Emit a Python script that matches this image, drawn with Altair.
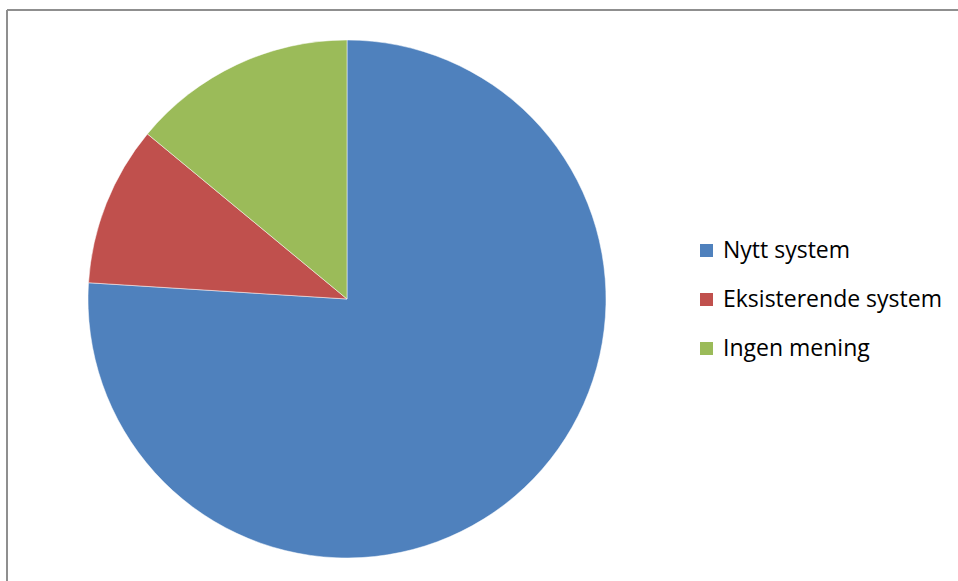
import altair as alt
import pandas as pd

categories = ["Nytt system", "Eksisterende system", "Ingen mening"]
values = [76, 10, 14]
colors = ["#4F81BD", "#C0504D", "#9BBB59"]

df = pd.DataFrame({"kategori": categories, "andel": values, "rekke": [0, 1, 2]})

pie = alt.Chart(df).mark_arc(radius=259, stroke="white", strokeWidth=0.5).encode(
    theta=alt.Theta("andel:Q", stack=True),
    order=alt.Order("rekke:Q"),
    color=alt.Color(
        "kategori:N",
        sort=categories,
        scale=alt.Scale(domain=categories, range=colors),
        legend=alt.Legend(
            title=None,
            orient="none",
            legendX=695,
            legendY=239,
            padding=0,
            symbolType="square",
            symbolSize=169,
            symbolStrokeWidth=0,
            labelFont="Open Sans",
            labelFontSize=23,
            labelColor="black",
            labelOffset=5,
            labelLimit=400,
            rowPadding=25,
        ),
    ),
    x=alt.value(347),
    y=alt.value(299),
)

border_df = pd.DataFrame({"k": [0]})
top = alt.Chart(border_df).mark_rule(color="#8f8f8f", strokeWidth=2).encode(
    x=alt.value(7), x2=alt.value(958), y=alt.value(10)
)
left = alt.Chart(border_df).mark_rule(color="#8f8f8f", strokeWidth=2).encode(
    x=alt.value(7), y=alt.value(10), y2=alt.value(581)
)

chart = alt.layer(pie, top, left).properties(
    width=958, height=581, padding=0,
    autosize=alt.AutoSizeParams(type="none"),
    background="white",
).configure_view(stroke=None)

chart.save("out.html", embed_options={"renderer": "svg", "actions": False})
